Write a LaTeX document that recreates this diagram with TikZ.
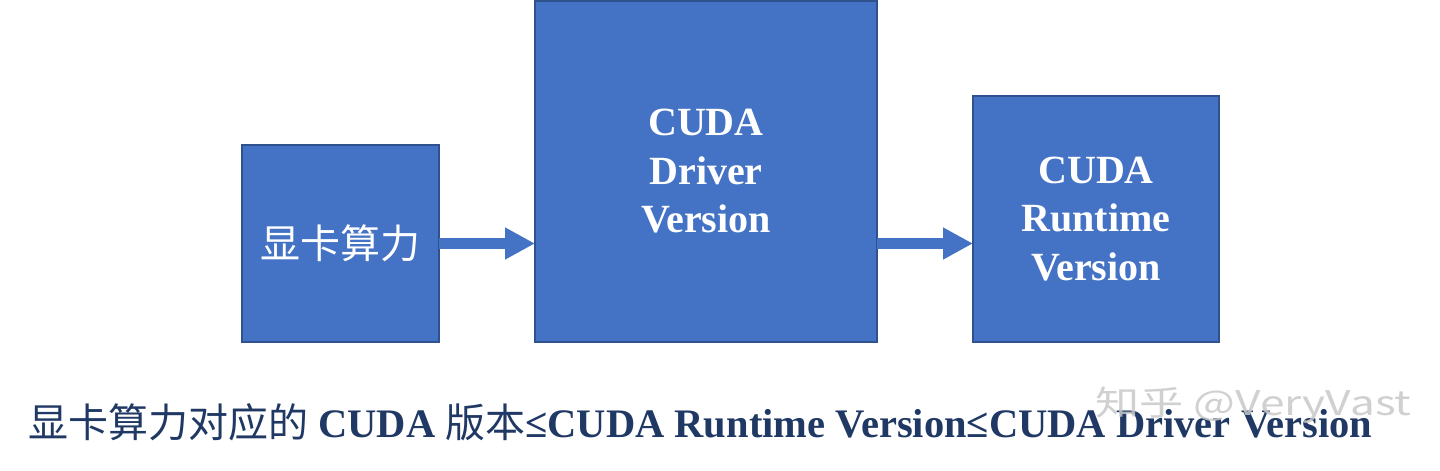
\documentclass[tikz,border=0pt]{standalone}
\usepackage{fontspec}
\setmainfont{Liberation Serif}
\newfontfamily\cjk{Noto Sans CJK SC}
\usetikzlibrary{positioning,arrows.meta}
\definecolor{boxblue}{RGB}{68,114,196}
\definecolor{boxedge}{RGB}{47,82,143}
\definecolor{capnavy}{RGB}{31,56,100}
\definecolor{markgray}{RGB}{200,200,200}

\begin{document}
\begin{tikzpicture}[x=1pt,y=-1pt,
    block/.style={draw=boxedge,fill=boxblue,line width=1.5pt,inner sep=0pt,outer sep=0pt,
      text=white,align=center,font=\fontsize{40}{48.5}\selectfont\bfseries},
    flow/.style={boxblue,line width=11pt,-{Triangle[length=30pt,width=30pt]}}]
    \useasboundingbox (0,0) rectangle (1440,471);

    \node[block,minimum width=197pt,minimum height=197pt] (gpu) at (340.5,243.5)
      {\cjk\mdseries\fontsize{40}{48}\selectfont 显卡算力};
    \node[block,minimum width=342pt,minimum height=341pt,right=96pt of gpu.south east,anchor=south west] (driver)
      {CUDA\\Driver\\Version};
    \node[block,minimum width=246pt,minimum height=246pt,right=96pt of driver.south east,anchor=south west] (runtime)
      {CUDA\\Runtime\\Version};

    \draw [flow] (gpu.east) -- (gpu.east -| driver.west);
    \draw [flow] (driver.east |- gpu.east) -- (gpu.east -| runtime.west);

    \node[anchor=base west,inner sep=0pt,text=capnavy,font=\fontsize{40.5}{48}\selectfont\bfseries] (note) at (28,437)
      {{\cjk\mdseries\fontsize{40}{48}\selectfont 显卡算力对应的} CUDA {\cjk\mdseries\fontsize{40}{48}\selectfont 版本}≤CUDA Runtime Version≤CUDA Driver Version};

    % watermark
    \node[anchor=west,inner sep=0pt,text=markgray,opacity=0.85,font=\cjk\fontsize{34}{38}\selectfont] (mark) at (1095,405)
      {\scalebox{1.3}[1]{知乎 @VeryVast}};
\end{tikzpicture}
\end{document}
